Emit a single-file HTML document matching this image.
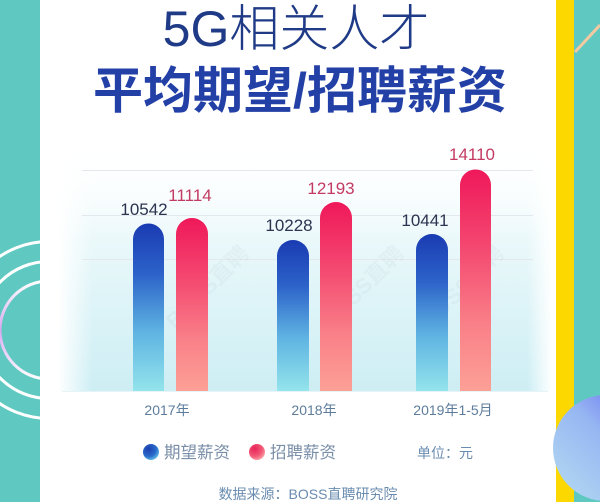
<!DOCTYPE html>
<html><head><meta charset="utf-8"><style>
html,body{margin:0;padding:0;width:600px;height:502px;overflow:hidden;background:#fff}
svg{display:block}
text{font-family:"Liberation Sans","Noto Sans CJK SC",sans-serif}
</style></head><body>
<svg width="600" height="502" viewBox="0 0 600 502" xmlns="http://www.w3.org/2000/svg">
<defs>
<linearGradient id="gb" x1="0" y1="0" x2="0" y2="1">
<stop offset="0" stop-color="#1a3bb2"/><stop offset="0.3" stop-color="#2c62c9"/><stop offset="0.65" stop-color="#5fb4e2"/><stop offset="1" stop-color="#93e4eb"/></linearGradient>
<linearGradient id="gr" x1="0" y1="0" x2="0" y2="1">
<stop offset="0" stop-color="#ef185a"/><stop offset="0.35" stop-color="#f44870"/><stop offset="0.7" stop-color="#f98088"/><stop offset="1" stop-color="#fca096"/></linearGradient>
<linearGradient id="bg" x1="0" y1="0" x2="0" y2="1">
<stop offset="0" stop-color="#ffffff" stop-opacity="0"/><stop offset="0.4" stop-color="#eaf8fa"/><stop offset="1" stop-color="#cdeef4"/></linearGradient>
<linearGradient id="fadeH" x1="0" y1="0" x2="1" y2="0">
<stop offset="0" stop-color="#fff" stop-opacity="0"/><stop offset="0.07" stop-color="#fff" stop-opacity="1"/><stop offset="0.95" stop-color="#fff" stop-opacity="1"/><stop offset="1" stop-color="#fff" stop-opacity="0"/></linearGradient>
<mask id="mH"><rect x="58" y="140" width="494" height="252" fill="url(#fadeH)"/></mask>
<radialGradient id="db" cx="0.35" cy="0.3" r="0.8"><stop offset="0" stop-color="#1d3fae"/><stop offset="0.6" stop-color="#2a6ccc"/><stop offset="1" stop-color="#6ed0ea"/></radialGradient>
<radialGradient id="dr" cx="0.35" cy="0.3" r="0.8"><stop offset="0" stop-color="#e8245a"/><stop offset="0.6" stop-color="#f25a78"/><stop offset="1" stop-color="#fbb0b0"/></radialGradient>
<linearGradient id="blob" x1="1" y1="0" x2="0" y2="1"><stop offset="0" stop-color="#5f5cf0"/><stop offset="0.45" stop-color="#96b6f2"/><stop offset="1" stop-color="#b6dcf2"/></linearGradient>
<linearGradient id="arcP" x1="0" y1="0" x2="0" y2="1"><stop offset="0" stop-color="#ffffff"/><stop offset="0.5" stop-color="#d8a8f0"/><stop offset="1" stop-color="#ffffff"/></linearGradient>
</defs>

<rect x="0" y="0" width="600" height="502" fill="#5fc9c1"/>
<g fill="none" stroke-width="3">
<circle cx="49" cy="330" r="88.5" stroke="#ffffff"/>
<circle cx="49" cy="330" r="68.5" stroke="#ffffff"/>
<circle cx="49" cy="330" r="49" stroke="url(#arcP)"/>
</g>
<line x1="575" y1="52" x2="600" y2="25" stroke="#f3c9a2" stroke-width="3"/>
<rect x="556" y="0" width="18" height="502" fill="#fcd700"/>
<rect x="40" y="0" width="516" height="502" fill="#ffffff"/>
<circle cx="606" cy="448" r="53" fill="url(#blob)"/>

<g mask="url(#mH)"><rect x="58" y="140" width="494" height="251" fill="url(#bg)"/></g>
<line x1="62" y1="391.5" x2="548" y2="391.5" stroke="#e6f4f8" stroke-width="1"/>

<g stroke="#e3e8ee" stroke-width="1">
<line x1="82" y1="170.5" x2="533" y2="170.5"/>
<line x1="82" y1="215.5" x2="533" y2="215.5"/>
<line x1="82" y1="259.5" x2="533" y2="259.5"/>
</g>

<g fill="#8a9ab0" opacity="0.07" font-size="22" font-weight="bold">
<text x="175" y="330" transform="rotate(-45 175 330)">BOSS直聘</text>
<text x="330" y="330" transform="rotate(-45 330 330)">BOSS直聘</text>
<text x="430" y="330" transform="rotate(-45 430 330)">BOSS直聘</text>
</g>

<path d="M133 391 V239 a15.5 15.5 0 0 1 31 0 V391 Z" fill="url(#gb)"/>
<path d="M176 391 V234 a16 16 0 0 1 32 0 V391 Z" fill="url(#gr)"/>
<path d="M277 391 V256 a16 16 0 0 1 32 0 V391 Z" fill="url(#gb)"/>
<path d="M320 391 V218 a16 16 0 0 1 32 0 V391 Z" fill="url(#gr)"/>
<path d="M416 391 V250 a16 16 0 0 1 32 0 V391 Z" fill="url(#gb)"/>
<path d="M460 391 V185 a15.5 15.5 0 0 1 31 0 V391 Z" fill="url(#gr)"/>

<g font-size="17" text-anchor="middle">
<text x="144" y="215" fill="#2b3450">10542</text>
<text x="190" y="201" fill="#c43a62">11114</text>
<text x="289" y="231" fill="#2b3450">10228</text>
<text x="331" y="194" fill="#c43a62">12193</text>
<text x="425" y="226" fill="#2b3450">10441</text>
<text x="472" y="160" fill="#c43a62">14110</text>
</g>

<g font-size="14" fill="#5d7c9c" text-anchor="middle">
<text x="167" y="415">2017年</text>
<text x="314" y="415">2018年</text>
<text x="453" y="415">2019年1-5月</text>
</g>

<circle cx="151" cy="452" r="8" fill="url(#db)"/>
<text x="164" y="458" font-size="16.5" fill="#7a8ea8">期望薪资</text>
<circle cx="257" cy="452" r="8" fill="url(#dr)"/>
<text x="270" y="458" font-size="16.5" fill="#7a8ea8">招聘薪资</text>
<text x="417" y="458" font-size="14" fill="#6a8cb0">单位：元</text>

<text x="308" y="499" font-size="14" fill="#6a8cb0" text-anchor="middle">数据来源：BOSS直聘研究院</text>

<text x="296" y="46" font-size="50" font-weight="300" fill="#1f3a86" text-anchor="middle">5G相关人才</text>
<text x="300" y="108" font-size="50" font-weight="bold" fill="#2340a6" text-anchor="middle">平均期望/招聘薪资</text>
</svg>
</body></html>
